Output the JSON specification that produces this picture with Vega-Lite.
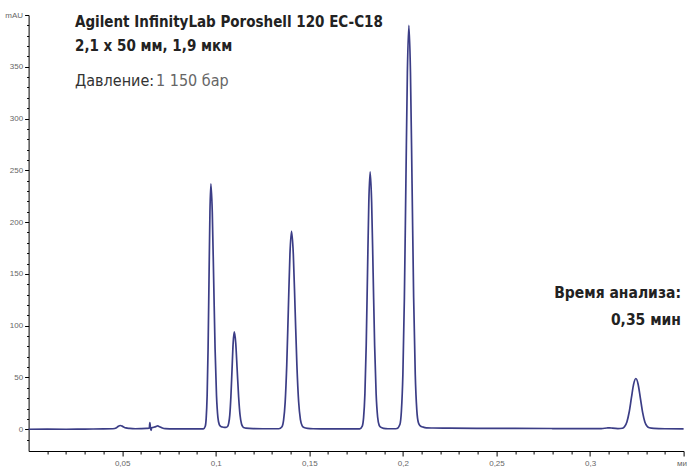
{
 "$schema": "https://vega.github.io/schema/vega-lite/v6.json",
 "width": 655,
 "height": 436,
 "autosize": "none",
 "padding": {"left": 28.6, "top": 15, "right": 3.4, "bottom": 21},
 "background": "white",
 "config": {"view": {"stroke": null}, "font": "Liberation Sans"},
 "resolve": {"axis": {"x": "independent", "y": "independent"}},
 "datasets": {
  "chrom": [
   {"t":0.000,"v":0.0},{"t":0.010,"v":0.1},{"t":0.020,"v":0.0},{"t":0.030,"v":0.2},{"t":0.040,"v":0.3},
   {"t":0.045,"v":0.5},{"t":0.047,"v":1.5},{"t":0.048,"v":3.0},{"t":0.049,"v":3.6},{"t":0.050,"v":3.0},
   {"t":0.051,"v":2.0},{"t":0.052,"v":1.3},{"t":0.054,"v":0.8},{"t":0.057,"v":0.5},{"t":0.060,"v":0.6},
   {"t":0.063,"v":0.8},{"t":0.0645,"v":1.0},{"t":0.0648,"v":6.5},{"t":0.0651,"v":1.5},{"t":0.0654,"v":-1.0},
   {"t":0.0658,"v":1.5},{"t":0.0665,"v":1.8},{"t":0.068,"v":2.5},{"t":0.069,"v":3.2},{"t":0.070,"v":2.5},
   {"t":0.0715,"v":1.2},{"t":0.073,"v":0.6},{"t":0.076,"v":0.4},{"t":0.080,"v":0.3},{"t":0.085,"v":0.3},
   {"t":0.090,"v":0.3},{"t":0.0934,"v":0.4},{"t":0.0944,"v":2.9},{"t":0.0949,"v":10.7},{"t":0.0954,"v":32.4},
   {"t":0.0959,"v":77.3},{"t":0.0964,"v":144},{"t":0.0969,"v":209.5},{"t":0.0974,"v":237},{"t":0.09815,"v":209.5},
   {"t":0.0989,"v":144},{"t":0.09965,"v":77.5},{"t":0.1004,"v":32.8},{"t":0.10115,"v":11.5},{"t":0.1019,"v":4.5},
   {"t":0.10265,"v":2.8},{"t":0.1035,"v":2.2},{"t":0.1045,"v":1.9},{"t":0.1055,"v":1.9},{"t":0.1063,"v":2.7},
   {"t":0.1069,"v":5.6},{"t":0.1075,"v":13.7},{"t":0.1081,"v":31.5},{"t":0.1087,"v":57.5},{"t":0.1093,"v":83.2},
   {"t":0.1099,"v":94},{"t":0.11068,"v":83.3},{"t":0.11145,"v":57.5},{"t":0.11223,"v":31.2},{"t":0.1130,"v":13.5},
   {"t":0.11378,"v":5.0},{"t":0.11455,"v":2.2},{"t":0.1153,"v":1.4},{"t":0.1161,"v":1.0},{"t":0.120,"v":0.6},
   {"t":0.125,"v":0.5},{"t":0.130,"v":0.5},{"t":0.1337,"v":0.5},{"t":0.1354,"v":2.5},{"t":0.13625,"v":8.8},
   {"t":0.1371,"v":26.2},{"t":0.13795,"v":62.4},{"t":0.1388,"v":116},{"t":0.13965,"v":169},{"t":0.1405,"v":191},
   {"t":0.14145,"v":169},{"t":0.1424,"v":116.2},{"t":0.14335,"v":62.6},{"t":0.1443,"v":26.5},{"t":0.14525,"v":9.2},
   {"t":0.1462,"v":3.2},{"t":0.14715,"v":1.6},{"t":0.1491,"v":0.8},{"t":0.152,"v":0.5},{"t":0.160,"v":0.4},
   {"t":0.170,"v":0.3},{"t":0.1769,"v":0.4},{"t":0.1783,"v":3.1},{"t":0.1790,"v":11.2},{"t":0.1797,"v":33.9},
   {"t":0.1804,"v":81},{"t":0.1811,"v":151},{"t":0.1818,"v":219.5},{"t":0.1825,"v":248.5},{"t":0.1833,"v":219.5},
   {"t":0.1841,"v":151},{"t":0.1849,"v":81.2},{"t":0.1857,"v":34.2},{"t":0.1865,"v":11.8},{"t":0.1873,"v":4.0},
   {"t":0.1881,"v":2.0},{"t":0.1897,"v":0.9},{"t":0.192,"v":0.5},{"t":0.1955,"v":0.5},{"t":0.1968,"v":0.7},
   {"t":0.1984,"v":4.6},{"t":0.1992,"v":17.4},{"t":0.2000,"v":53.1},{"t":0.2008,"v":127},{"t":0.2016,"v":237},
   {"t":0.2024,"v":344.5},{"t":0.2032,"v":390},{"t":0.20405,"v":344.5},{"t":0.2049,"v":237},{"t":0.20575,"v":127.2},
   {"t":0.2066,"v":53.6},{"t":0.20745,"v":18.2},{"t":0.2083,"v":6.2},{"t":0.20915,"v":3.5},{"t":0.2109,"v":2.0},
   {"t":0.2126,"v":1.4},{"t":0.216,"v":1.2},{"t":0.225,"v":1.0},{"t":0.240,"v":0.9},{"t":0.260,"v":0.8},
   {"t":0.280,"v":0.7},{"t":0.300,"v":0.6},{"t":0.306,"v":0.7},{"t":0.309,"v":1.2},{"t":0.3105,"v":1.4},
   {"t":0.312,"v":1.0},{"t":0.3149,"v":0.6},{"t":0.3173,"v":1.0},{"t":0.3185,"v":2.7},{"t":0.3197,"v":7.1},
   {"t":0.3209,"v":16.4},{"t":0.3221,"v":30.2},{"t":0.3233,"v":43.6},{"t":0.3245,"v":49},{"t":0.3257,"v":43.5},
   {"t":0.3269,"v":30.1},{"t":0.3281,"v":16.3},{"t":0.3293,"v":7.1},{"t":0.3305,"v":2.9},{"t":0.3317,"v":1.4},
   {"t":0.3341,"v":0.8},{"t":0.340,"v":0.5},{"t":0.350,"v":0.4}
  ],
  "titleBold": [
   {"t":0.0248,"v":388.4,"label":"Agilent InfinityLab Poroshell 120 EC-C18"},
   {"t":0.0248,"v":365.2,"label":"2,1 x 50 мм, 1,9 мкм"}
  ],
  "pressLabel": [{"t":0.0248,"v":331.4,"label":"Давление:"}],
  "pressValue": [{"t":0.0681,"v":331.4,"label":"1 150 бар"}],
  "runTime": [
   {"t":0.3486,"v":126.6,"label":"Время анализа:"},
   {"t":0.3486,"v":100.5,"label":"0,35 мин"}
  ]
 },
 "layer": [
  {
   "data": {"name": "chrom"},
   "mark": {"type": "line", "interpolate": "monotone", "color": "#3b3d86", "strokeWidth": 1.7},
   "encoding": {
    "x": {"field": "t", "type": "quantitative",
     "scale": {"domain": [0, 0.35], "nice": false, "zero": false},
     "axis": {"title": null, "grid": false, "orient": "bottom",
      "values": [0.05,0.1,0.15,0.2,0.25,0.3,0.35],
      "labelExpr": "datum.value > 0.345 ? 'мин' : replace(format(datum.value, '.2~f'), '.', ',')",
      "tickSize": 5,
      "labelFlush": false, "labelOverlap": false, "labelBound": false,
      "domainColor": "#000", "tickColor": "#000", "labelColor": "#666", "labelFontSize": 8, "labelPadding": 3,
      "domainWidth": 1, "tickWidth": 1}},
    "y": {"field": "v", "type": "quantitative",
     "scale": {"domain": [-21, 400], "nice": false, "zero": false},
     "axis": {"title": null, "grid": false, "orient": "left",
      "values": [0,50,100,150,200,250,300,350,400],
      "labelExpr": "datum.value === 400 ? 'mAU' : datum.label",
      "tickSize": 4,
      "labelOverlap": false, "labelFlush": false,
      "domainColor": "#000", "tickColor": "#000", "labelColor": "#666", "labelFontSize": 8, "labelPadding": 2,
      "domainWidth": 1, "tickWidth": 1}}
   }
  },
  {
   "data": {"name": "chrom"},
   "mark": {"type": "line", "opacity": 0},
   "encoding": {
    "x": {"field": "t", "type": "quantitative",
     "axis": {"title": null, "grid": false, "orient": "bottom", "labels": false, "domain": false,
      "values": [0.01,0.02,0.03,0.04,0.06,0.07,0.08,0.09,0.11,0.12,0.13,0.14,0.16,0.17,0.18,0.19,0.21,0.22,0.23,0.24,0.26,0.27,0.28,0.29,0.31,0.32,0.33,0.34],
      "tickSize": 3, "tickColor": "#000", "tickWidth": 1}},
    "y": {"field": "v", "type": "quantitative",
     "axis": {"title": null, "grid": false, "orient": "left", "labels": false, "domain": false,
      "values": [-10,10,20,30,40,60,70,80,90,110,120,130,140,160,170,180,190,210,220,230,240,260,270,280,290,310,320,330,340,360,370,380,390],
      "tickSize": 2, "tickColor": "#000", "tickWidth": 1}}
   }
  },
  {
   "data": {"name": "titleBold"},
   "mark": {"type": "text", "align": "left", "baseline": "alphabetic", "font": "DejaVu Sans Condensed, sans-serif", "fontWeight": "bold", "fontSize": 15, "color": "#222"},
   "encoding": {"x": {"field": "t", "type": "quantitative", "axis": null}, "y": {"field": "v", "type": "quantitative", "axis": null}, "text": {"field": "label"}}
  },
  {
   "data": {"name": "pressLabel"},
   "mark": {"type": "text", "align": "left", "baseline": "alphabetic", "font": "DejaVu Sans Condensed, sans-serif", "fontSize": 16, "color": "#333"},
   "encoding": {"x": {"field": "t", "type": "quantitative", "axis": null}, "y": {"field": "v", "type": "quantitative", "axis": null}, "text": {"field": "label"}}
  },
  {
   "data": {"name": "pressValue"},
   "mark": {"type": "text", "align": "left", "baseline": "alphabetic", "font": "DejaVu Sans Condensed, sans-serif", "fontSize": 16, "color": "#666"},
   "encoding": {"x": {"field": "t", "type": "quantitative", "axis": null}, "y": {"field": "v", "type": "quantitative", "axis": null}, "text": {"field": "label"}}
  },
  {
   "data": {"name": "runTime"},
   "mark": {"type": "text", "align": "right", "baseline": "alphabetic", "font": "DejaVu Sans Condensed, sans-serif", "fontWeight": "bold", "fontSize": 15.5, "color": "#222"},
   "encoding": {"x": {"field": "t", "type": "quantitative", "axis": null}, "y": {"field": "v", "type": "quantitative", "axis": null}, "text": {"field": "label"}}
  }
 ]
}
